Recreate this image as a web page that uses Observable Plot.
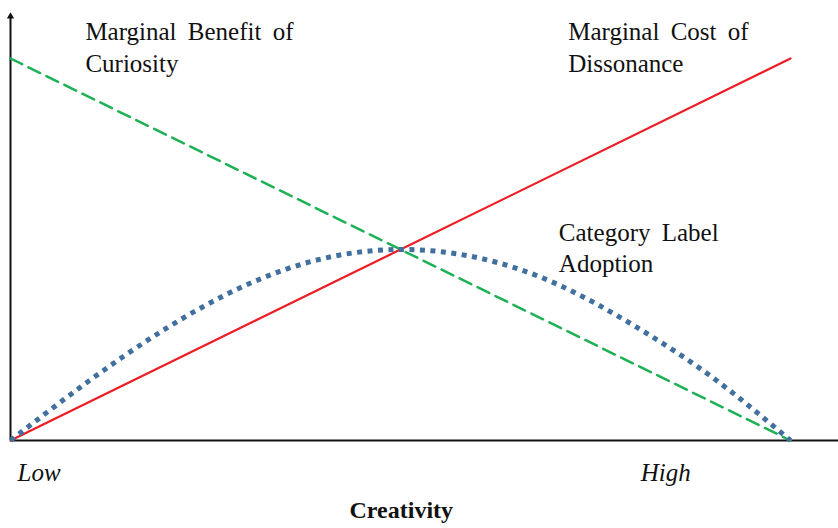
<!DOCTYPE html>
<html>
<head>
<meta charset="utf-8">
<script src="https://cdn.jsdelivr.net/npm/d3@7"></script>
<script src="https://cdn.jsdelivr.net/npm/@observablehq/plot@0.6"></script>
<style>
  html, body { margin: 0; padding: 0; background: #fff; }
  #chart svg { display: block; }
</style>
</head>
<body>
<div id="chart"></div>
<script>
// Creativity position (abstract 0 = Low … 100 = High)
const creativity = [0, 10, 20, 30, 40, 50, 60, 70, 80, 90, 100];
// Marginal Benefit of Curiosity (falling, dashed green)
const benefitX = [0, 100];
const benefitY = [100, 0];
// Marginal Cost of Dissonance (rising, solid red)
const costX = [0, 100];
const costY = [0, 100];
// Category Label Adoption (inverted U, dotted blue)
const adoption = [0, 15.5, 29.4, 40.5, 47.6, 50, 47.8, 41, 30, 16.5, 0];

// Annotation texts
const curveLabels = ["Marginal Benefit of\nCuriosity", "Marginal Cost of\nDissonance", "Category Label\nAdoption"];
const tickLabels = ["Low", "High"];
const axisTitle = "Creativity";

const benefit = benefitX.map((x, i) => ({x, y: benefitY[i]}));
const cost = costX.map((x, i) => ({x, y: costY[i]}));
const adopt = creativity.map((x, i) => ({x, y: adoption[i]}));

const curveLabelPos = [
  {text: curveLabels[0], x: 9.6, y: 96.5},
  {text: curveLabels[1], x: 71.5, y: 96.5},
  {text: curveLabels[2], x: 70.3, y: 44}
];
const tickPos = [
  {text: tickLabels[0], x: 0.9, y: -10.7},
  {text: tickLabels[1], x: 80.8, y: -10.7}
];

const font = "'Liberation Serif', 'DejaVu Serif', serif";

const chart = Plot.plot({
  width: 838,
  height: 528,
  marginTop: 0, marginRight: 0, marginBottom: 0, marginLeft: 0,
  x: {domain: [0, 100], range: [10, 790], axis: null},
  y: {domain: [0, 100], range: [440, 58], axis: null},
  style: {background: "#fff", overflow: "visible"},
  marks: [
    // axes
    Plot.ruleX([0], {y1: 0, y2: 110.5, stroke: "#111", strokeWidth: 2}),
    Plot.ruleY([0], {x1: 0, x2: 106.2, stroke: "#111", strokeWidth: 2}),
    Plot.dot([{x: 0, y: 111}], {x: "x", y: "y", symbol: "triangle", r: 2.7, fill: "#111", stroke: null}),
    // curves
    Plot.line(benefit, {x: "x", y: "y", stroke: "#1db155", strokeWidth: 2.5, strokeDasharray: "13,7"}),
    Plot.line(cost, {x: "x", y: "y", stroke: "#ee1c24", strokeWidth: 2.2}),
    Plot.line(adopt, {x: "x", y: "y", curve: "natural", stroke: "#41709f", strokeWidth: 5, strokeDasharray: "5,5.5", strokeLinecap: "butt"}),
    // labels
    Plot.text(curveLabelPos, {x: "x", y: "y", text: "text", textAnchor: "start", lineAnchor: "bottom", lineHeight: 1.26, fontSize: 25, fontFamily: font, fill: "#111"}),
    Plot.text(tickPos, {x: "x", y: "y", text: "text", textAnchor: "start", lineAnchor: "bottom", fontSize: 25, fontFamily: font, fontStyle: "italic", fill: "#111"}),
    Plot.text([axisTitle], {x: 50.1, y: -20.4, text: d => d, textAnchor: "middle", lineAnchor: "bottom", fontSize: 24, fontFamily: font, fontWeight: "bold", fill: "#111"})
  ]
});
chart.querySelectorAll("text").forEach(t => t.style.fontFamily = font);
chart.style.wordSpacing = "5px";
document.getElementById("chart").append(chart);
</script>
</body>
</html>
